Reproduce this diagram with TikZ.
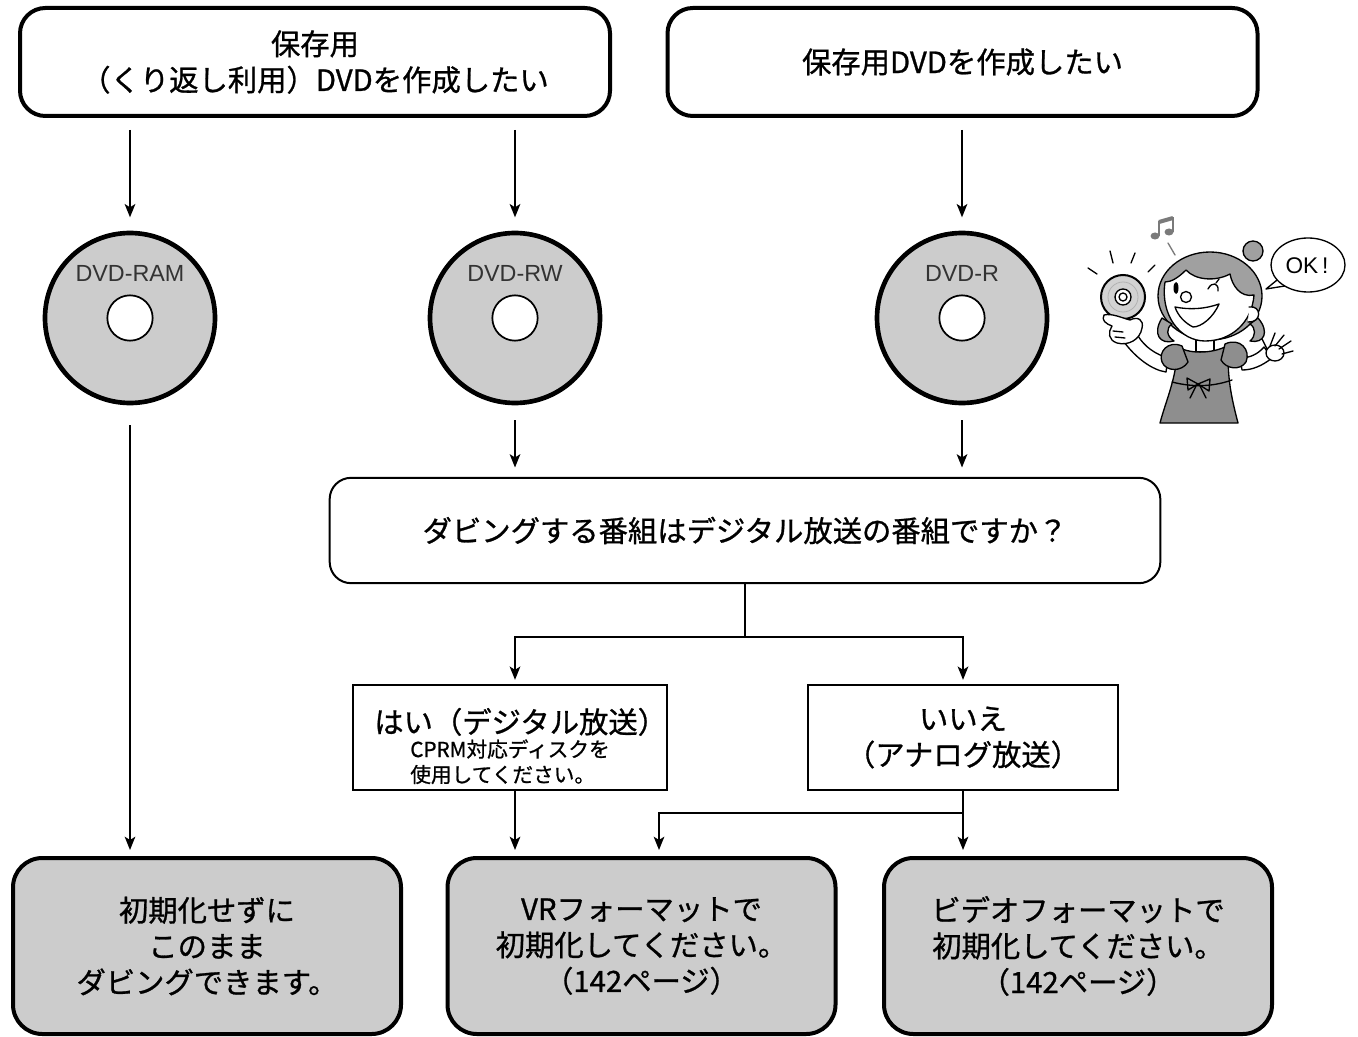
\documentclass[tikz,border=0pt]{standalone}
\usepackage{fontspec}
\setmainfont{Noto Sans CJK JP}[FakeBold=0.9]
\newfontfamily\labelfont{Liberation Sans}
\usetikzlibrary{arrows.meta,calc}
\definecolor{panelgray}{HTML}{CCCCCC}
\definecolor{hairgray}{HTML}{A0A0A0}
\definecolor{dressgray}{HTML}{8E8E8E}
\definecolor{notegray}{HTML}{7A7A7A}
\newcommand\jpbig{\fontsize{22pt}{27pt}\selectfont}
\newcommand\jpsmall{\fontsize{15.5pt}{19pt}\selectfont}
\begin{document}
\begin{tikzpicture}[x=0.75pt,y=-0.75pt,
  conn/.style={line width=1.2pt},
  arr/.style={conn,-{Stealth[length=10pt,width=8pt,inset=2.5pt]}},
  headbox/.style={draw,line width=3pt,rounded corners=19pt,fill=white,minimum width=442.5pt,minimum height=81pt,align=center,font=\jpbig,inner sep=0pt},
  askbox/.style={draw,line width=1.5pt,rounded corners=16pt,fill=white,minimum width=623pt,minimum height=79pt,font=\jpbig,inner sep=0pt},
  answerbox/.style={draw,line width=1.5pt,fill=white,minimum width=232.5pt,minimum height=79pt,align=center,font=\jpbig,inner sep=0pt},
  resultbox/.style={draw,line width=3pt,rounded corners=22pt,fill=panelgray,minimum width=291pt,minimum height=132pt,align=center,font=\jpbig,inner sep=0pt},
  disc/.style={circle,draw,line width=3.5pt,fill=panelgray,minimum size=127.5pt,inner sep=0pt},
  hole/.style={circle,draw,line width=1.3pt,fill=white,minimum size=34pt,inner sep=0pt},
  disclabel/.style={font=\labelfont\fontsize{17.5pt}{20pt}\selectfont,text=black!80,inner sep=0pt},
  ink/.style={line width=1pt,line join=round,line cap=round},
]
\useasboundingbox (0,0) rectangle (1358,1037);

% question headers
\node[headbox] (top1) at (315,62) {保存用\\（くり返し利用）DVDを作成したい};
\node[headbox] (top2) at (962.5,62) {保存用DVDを作成したい};

% disc types
\node[disc] (ram) at (130,318) {};
\node[hole] (ramhole) at (ram) {};
\node[disclabel] (ramlbl) at (130,273) {DVD-RAM};
\node[disc] (rw) at (515,318) {};
\node[hole] (rwhole) at (rw) {};
\node[disclabel] (rwlbl) at (515,273) {DVD-RW};
\node[disc] (dvdr) at (962,318) {};
\node[hole] (dvdrhole) at (dvdr) {};
\node[disclabel] (dvdrlbl) at (962,273) {DVD-R};

% broadcast question and answers
\node[askbox] (q) at (745,530.5) {ダビングする番組はデジタル放送の番組ですか？};
\node[answerbox] (yes) at (510,737.5) {\rule{0pt}{36pt}\hspace*{16pt}はい（デジタル放送）\\[-9pt]{\jpsmall\begin{tabular}[t]{@{}l@{}}CPRM対応ディスクを\\使用してください。\end{tabular}}};
\node[answerbox] (no) at (963,737.5) {いいえ\\（アナログ放送）};

% results
\node[resultbox] (keep) at (207,946) {初期化せずに\\このまま\\ダビングできます。};
\node[resultbox] (vrfmt) at (641.5,946) {VRフォーマットで\\初期化してください。\\（142ページ）};
\node[resultbox] (videofmt) at (1078,946) {ビデオフォーマットで\\初期化してください。\\（142ページ）};

% connectors
\draw[arr,shorten <=9pt,shorten >=10pt] (top1.south -| ram) -- (ram.north);
\draw[arr,shorten <=9pt,shorten >=10pt] (top1.south -| rw) -- (rw.north);
\draw[arr,shorten <=9pt,shorten >=10pt] (top2.south -| dvdr) -- (dvdr.north);
\draw[arr,shorten <=15pt,shorten >=4.5pt] (ram.south) -- (keep.north -| ram);
\draw[arr,shorten <=11pt,shorten >=7pt] (rw.south) -- (q.north -| rw);
\draw[arr,shorten <=11pt,shorten >=7pt] (dvdr.south) -- (q.north -| dvdr);
\draw[conn] (q.south) -- ++(0,53) coordinate (split);
\draw[arr,shorten >=3pt] (split) -| (yes.north -| rw);
\draw[arr,shorten >=3pt] (split) -| (no.north);
\draw[arr,shorten >=4.5pt] (yes.south -| rw) -- (vrfmt.north -| rw);
\draw[arr,shorten >=4.5pt] (no.south) -- (no.south |- videofmt.north);
\coordinate (branch) at ($(no.south)+(0,22)$);
\draw[arr,shorten >=4.5pt] (branch) -| ($(vrfmt.north)+(17.5,0)$);

% girl holding a disc
\begin{scope}
  % neck
  \draw[ink,fill=white] (1196,334) -- (1196,352) -- (1214,352) -- (1214,334);
  % waving arm and hand
  \draw[ink,fill=white] (1240,358) .. controls (1250,358) and (1258,354) .. (1264,347)
      -- (1272,358) .. controls (1262,366) and (1252,370) .. (1242,370) -- cycle;
  \draw[ink,fill=white] (1275,353) ellipse (9 and 8);
  \draw[ink] (1270,346) -- (1275,333);
  \draw[ink] (1275,346) -- (1284,335);
  \draw[ink] (1279,349) -- (1291,341);
  \draw[ink] (1282,354) -- (1293,351);
  \draw[ink] (1267,349) -- (1262,339);
  % arm holding the disc
  \draw[ink,fill=white] (1168,358) .. controls (1155,354) and (1145,347) .. (1138,336)
      -- (1124,342) .. controls (1136,358) and (1152,370) .. (1166,372) -- cycle;
  % dress
  \draw[ink,fill=dressgray] (1178,347) .. controls (1176,380) and (1166,400) .. (1160,423)
      -- (1238,423) .. controls (1232,400) and (1226,375) .. (1229,345)
      .. controls (1215,353) and (1192,355) .. (1178,347) -- cycle;
  \draw[ink,fill=dressgray] (1182,346) .. controls (1168,340) and (1158,352) .. (1162,362)
      .. controls (1166,372) and (1182,372) .. (1188,362) -- cycle;
  \draw[ink,fill=dressgray] (1225,344) .. controls (1240,337) and (1251,350) .. (1246,362)
      .. controls (1240,371) and (1226,369) .. (1221,360) -- cycle;
  \draw[ink] (1172,382) .. controls (1195,388) and (1215,386) .. (1232,380);
  \draw[ink] (1198,384) -- (1187,378) -- (1188,390) -- cycle;
  \draw[ink] (1198,384) -- (1210,379) -- (1209,391) -- cycle;
  \draw[ink] (1196,386) -- (1190,398);
  \draw[ink] (1200,386) -- (1206,398);
  % hair and face
  \draw[ink,fill=hairgray] (1253,251) circle (10);
  \draw[ink,fill=hairgray] (1210,296) ellipse (52 and 44);
  \draw[ink,fill=hairgray] (1162,318) .. controls (1152,334) and (1160,345) .. (1174,341)
      .. controls (1166,336) and (1166,328) .. (1172,324) -- cycle;
  \draw[ink,fill=hairgray] (1258,318) .. controls (1270,332) and (1264,344) .. (1250,341)
      .. controls (1256,336) and (1256,328) .. (1250,324) -- cycle;
  \draw[ink,fill=white] (1165,282) .. controls (1160,315) and (1180,341) .. (1205,341)
      .. controls (1232,341) and (1252,322) .. (1254,295)
      .. controls (1240,298) and (1232,285) .. (1230,274)
      .. controls (1215,282) and (1195,280) .. (1186,270)
      .. controls (1178,278) and (1171,282) .. (1165,282) -- cycle;
  \draw[ink,fill=white] (1249,307) .. controls (1262,305) and (1262,323) .. (1248,322);
  \fill (1176,288) ellipse (2.5 and 6);
  \draw[ink] (1208,289) .. controls (1212,281) and (1219,283) .. (1218,291);
  \draw[ink] (1216,283) -- (1219,279);
  \draw[ink,fill=white] (1186,297) circle (5.5);
  \draw[ink,fill=white] (1175,307) .. controls (1190,310) and (1205,309) .. (1219,304)
      .. controls (1213,318) and (1201,327) .. (1193,327)
      .. controls (1185,323) and (1178,316) .. (1175,307) -- cycle;
  % disc in the hand
  \draw[line width=1.5pt,fill=gray!35] (1123,297) circle (22);
  \draw[line width=0.6pt,draw=gray!60] (1123,297) circle (15);
  \draw[ink,fill=white] (1123,297) circle (8);
  \draw[ink] (1123,297) circle (4);
  \draw[ink,fill=white] (1104,315) .. controls (1112,313) and (1122,318) .. (1130,320)
      .. controls (1138,316) and (1144,320) .. (1142,328)
      .. controls (1140,340) and (1128,346) .. (1117,343)
      .. controls (1108,340) and (1108,332) .. (1112,326)
      .. controls (1106,324) and (1101,320) .. (1104,315) -- cycle;
  \draw[ink] (1113,331) -- (1123,332);
  \draw[ink] (1115,337) -- (1125,338);
  % sparkle rays
  \draw[ink] (1088,268) -- (1097,274);
  \draw[ink] (1110,251) -- (1113,263);
  \draw[ink] (1135,253) -- (1131,263);
  \draw[ink] (1155,265) -- (1148,272);
  % music note
  \fill[notegray] (1155,236) ellipse (4.5 and 3.5);
  \fill[notegray] (1169,232) ellipse (4.5 and 3.5);
  \draw[notegray,line width=1.2pt] (1159,236) -- (1159,221);
  \draw[notegray,line width=1.2pt] (1173,232) -- (1173,217);
  \draw[notegray,line width=3pt] (1159,222) -- (1173,218);
  \draw[ink,draw=notegray] (1168,243) -- (1175,255);
  % speech bubble
  \draw[ink,fill=white] (1282,276) -- (1266,289) -- (1291,285);
  \draw[ink,fill=white] (1308,265) ellipse (37 and 27);
  \node[font=\labelfont\fontsize{17pt}{17pt}\selectfont,inner sep=0pt] (ok) at (1307,266) {OK\,!};
\end{scope}
\end{tikzpicture}
\end{document}
